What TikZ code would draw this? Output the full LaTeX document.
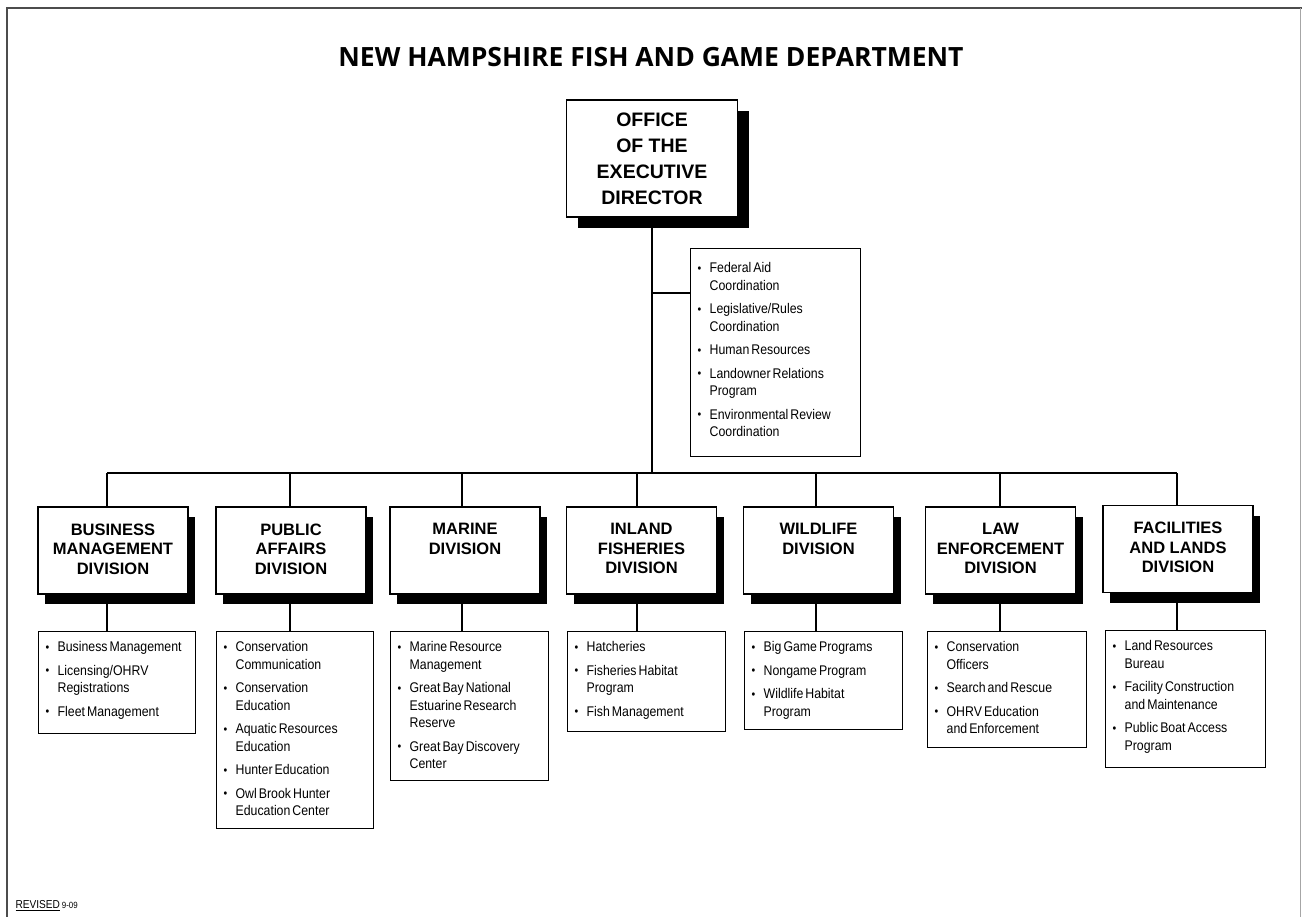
\documentclass[tikz,border=0pt]{standalone}
\usepackage{fontspec}
\setmainfont{Liberation Sans}
\newfontfamily\listfont[FakeStretch=0.88,WordSpace=0.6]{Liberation Sans}
\newfontfamily\headfont{Open Sans}
\usetikzlibrary{shadows}

\newcommand{\bul}[1]{\par\hangindent=12pt\hangafter=1\noindent\makebox[12pt][l]{\raisebox{0.5pt}{\fontsize{12}{12}\selectfont\textbullet}}#1\par\vspace{6pt}}
\newcommand{\divtext}[1]{\parbox[c][54pt][t]{146pt}{\centering #1}}
\newcommand{\listbody}[3]{\parbox[t][#2][t]{#1}{\raggedright #3}}

\begin{document}
\begin{tikzpicture}[x=1pt,y=-1pt]
        \useasboundingbox (0,0) rectangle (1302,917);
        % page frame
        \draw[line width=2pt,black!70] (7,917) -- (7,8) -- (1302,8);
        \draw[line width=0.8pt,black!35] (1300,8) -- (1300,917);
        \node (title) at (651,57) {\headfont\bfseries\fontsize{26.5}{30}\selectfont NEW HAMPSHIRE FISH AND GAME DEPARTMENT};
        \node[anchor=west] (revised) at (12,906) {\listfont\fontsize{11.5}{12}\selectfont\underline{REVISED}\,{\fontsize{9}{10}\selectfont 9-09}};
        \begin{scope}[every node/.style={draw,fill=white,line width=1.6pt,align=center,inner sep=0pt}]
            \node[minimum width=171pt,minimum height=117pt,font=\bfseries\fontsize{19.5}{26}\selectfont,
                  drop shadow={shadow xshift=11pt,shadow yshift=-11pt,opacity=1,fill=black}]
                  (exec) at (652,158.5) {OFFICE\\OF THE\\EXECUTIVE\\DIRECTOR};
        \end{scope}
        \begin{scope}[every node/.style={draw,fill=white,line width=1.6pt,inner sep=0pt,
                      minimum width=150pt,minimum height=87pt,font=\bfseries\fontsize{16.5}{19.5}\selectfont,
                      drop shadow={shadow xshift=7pt,shadow yshift=-10pt,opacity=1,fill=black}}]
            \node (bm) at (113,550.5) {\divtext{BUSINESS\\MANAGEMENT\\DIVISION}};
            \node (pa) at (291,550.5) {\divtext{PUBLIC\\AFFAIRS\\DIVISION}};
            \node (mar) at (465,550.5) {\divtext{MARINE\\DIVISION}};
            \node (inl) at (641.5,550.5) {\divtext{INLAND\\FISHERIES\\DIVISION}};
            \node (wild) at (818.5,550.5) {\divtext{WILDLIFE\\DIVISION}};
            \node (law) at (1000.5,550.5) {\divtext{LAW\\ENFORCEMENT\\DIVISION}};
            \node (fac) at (1178,549) {\divtext{FACILITIES\\AND LANDS\\DIVISION}};
        \end{scope}
        \begin{scope}[every node/.style={draw,fill=white,line width=1.3pt,anchor=north west,
                      inner xsep=7pt,inner ysep=10pt,font=\listfont\fontsize{14}{17.5}\selectfont}]
            \node[inner ysep=14pt] (staff) at (690,248) {\listbody{156pt}{180pt}{%
                \bul{Federal Aid\newline Coordination}
                \bul{Legislative/Rules\newline Coordination}
                \bul{Human Resources}
                \bul{Landowner Relations\newline Program}
                \bul{Environmental Review\newline Coordination}}};
            \node (bmL) at (38,631) {\listbody{143pt}{82pt}{%
                \bul{Business Management}
                \bul{Licensing/OHRV\newline Registrations}
                \bul{Fleet Management}}};
            \node (paL) at (216,631) {\listbody{143pt}{177pt}{%
                \bul{Conservation\newline Communication}
                \bul{Conservation\newline Education}
                \bul{Aquatic Resources\newline Education}
                \bul{Hunter Education}
                \bul{Owl Brook Hunter\newline Education Center}}};
            \node (marL) at (390,631) {\listbody{144pt}{129pt}{%
                \bul{Marine Resource\newline Management}
                \bul{Great Bay National\newline Estuarine Research\newline Reserve}
                \bul{Great Bay Discovery\newline Center}}};
            \node (inlL) at (567,631) {\listbody{144pt}{80pt}{%
                \bul{Hatcheries}
                \bul{Fisheries Habitat\newline Program}
                \bul{Fish Management}}};
            \node (wildL) at (744,631) {\listbody{144pt}{78pt}{%
                \bul{Big Game Programs}
                \bul{Nongame Program}
                \bul{Wildlife Habitat\newline Program}}};
            \node (lawL) at (927,631) {\listbody{145pt}{96pt}{%
                \bul{Conservation\newline Officers}
                \bul{Search and Rescue}
                \bul{OHRV Education\newline and Enforcement}}};
            \node (facL) at (1105,630) {\listbody{146pt}{117pt}{%
                \bul{Land Resources\newline Bureau}
                \bul{Facility Construction\newline and Maintenance}
                \bul{Public Boat Access\newline Program}}};
        \end{scope}
        % junctions on the lines
        \coordinate (tap) at (652,293);
        \coordinate (bus) at (652,473);
        \coordinate (t1) at (107,473);
        \coordinate (t2) at (290,473);
        \coordinate (t3) at (462,473);
        \coordinate (t4) at (637,473);
        \coordinate (t5) at (816,473);
        \coordinate (t6) at (1000,473);
        \coordinate (t7) at (1177,473);
        \begin{scope}[line width=1.3pt]
            \draw (exec) -- (bus);
            \draw (tap) -- (tap -| staff.west);
            \draw (t1) -- (t7);
            \draw (t1) -- (t1 |- bm.north);
            \draw (t2) -- (t2 |- pa.north);
            \draw (t3) -- (t3 |- mar.north);
            \draw (t4) -- (t4 |- inl.north);
            \draw (t5) -- (t5 |- wild.north);
            \draw (t6) -- (t6 |- law.north);
            \draw (t7) -- (t7 |- fac.north);
            \draw (t1 |- bm.south) -- (t1 |- bmL.north);
            \draw (t2 |- pa.south) -- (t2 |- paL.north);
            \draw (t3 |- mar.south) -- (t3 |- marL.north);
            \draw (t4 |- inl.south) -- (t4 |- inlL.north);
            \draw (t5 |- wild.south) -- (t5 |- wildL.north);
            \draw (t6 |- law.south) -- (t6 |- lawL.north);
            \draw (t7 |- fac.south) -- (t7 |- facL.north);
        \end{scope}
\end{tikzpicture}
\end{document}
